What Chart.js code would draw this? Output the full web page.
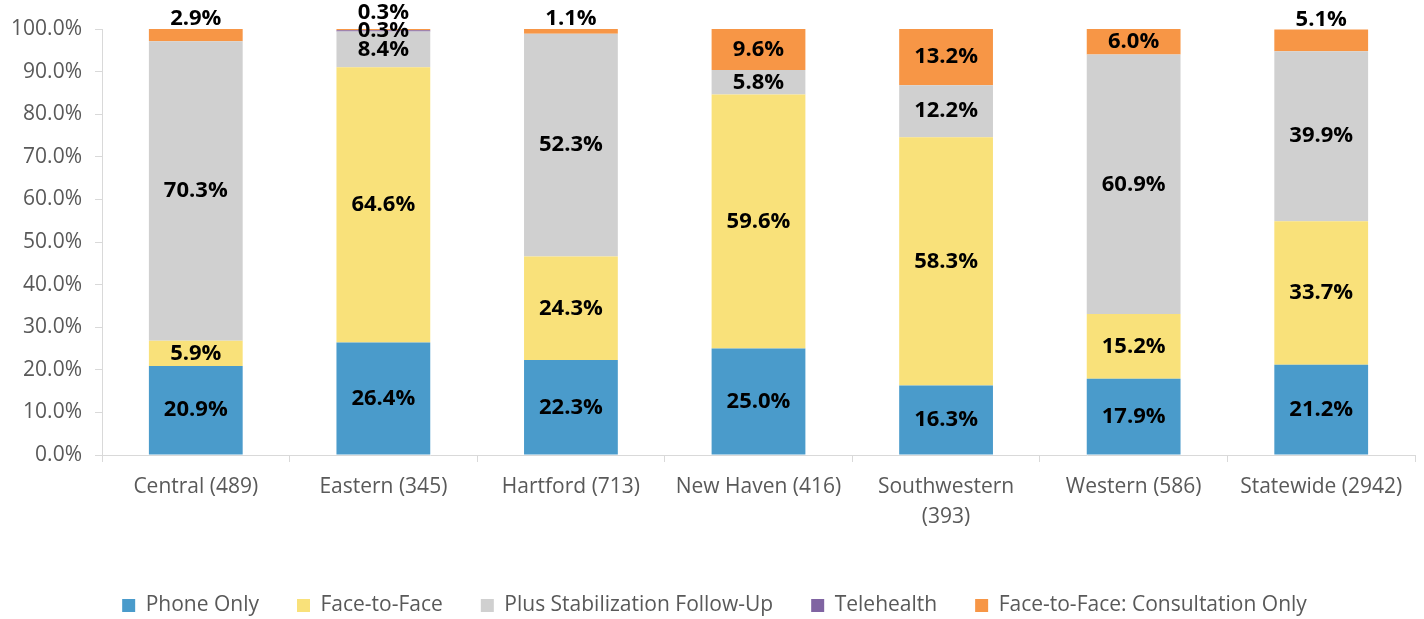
<!DOCTYPE html>
<html>
<head>
<meta charset="utf-8">
<script src="https://cdn.jsdelivr.net/npm/chart.js"></script>
<style>
  html, body { margin: 0; padding: 0; background: #fff; }
  #wrap { width: 1424px; height: 619px; }
</style>
</head>
<body>
<div id="wrap"><canvas id="chart" width="1424" height="619"></canvas></div>
<script>
// categories and series (percent of each region)
const regions = ["Central (489)", "Eastern (345)", "Hartford (713)", "New Haven (416)", "Southwestern (393)", "Western (586)", "Statewide (2942)"];
const phoneOnly = [20.9, 26.4, 22.3, 25.0, 16.3, 17.9, 21.2];
const faceToFace = [5.9, 64.6, 24.3, 59.6, 58.3, 15.2, 33.7];
const plusStabilization = [70.3, 8.4, 52.3, 5.8, 12.2, 60.9, 39.9];
const telehealth = [0, 0.3, 0, 0, 0, 0, 0];
const consultationOnly = [2.9, 0.3, 1.1, 9.6, 13.2, 6.0, 5.1];
const yTicks = [0, 10, 20, 30, 40, 50, 60, 70, 80, 90, 100];

const FONT = "'Open Sans', 'Liberation Sans', sans-serif";
const GREY_TEXT = "#595959";
const AXIS = "#d9d9d9";

// draws the value labels; small top segments go above the bar
const valueLabels = {
  id: "valueLabels",
  afterDatasetsDraw(chart) {
    const ctx = chart.ctx;
    const used = {};
    ctx.save();
    ctx.font = "bold 22px " + FONT;
    ctx.fillStyle = "#000";
    ctx.textAlign = "center";
    ctx.textBaseline = "middle";
    chart.data.datasets.forEach((ds, di) => {
      const meta = chart.getDatasetMeta(di);
      meta.data.forEach((bar, i) => {
        const v = ds.data[i];
        if (!v) return;
        const h = Math.abs(bar.base - bar.y);
        let y = (bar.y + bar.base) / 2;
        if (di === chart.data.datasets.length - 1 && h < 24) y = bar.y - 10;
        const prev = used[i];
        if (prev !== undefined && prev - y < 18) y = prev - 18;
        used[i] = y;
        ctx.fillText(v.toFixed(1) + "%", bar.x, y);
      });
    });
    ctx.restore();
  }
};

// nudge the legend a little from where chart.js puts it
const legendNudge = {
  id: "legendNudge",
  afterLayout(chart) {
    chart.legend.top += 7;
    chart.legend.bottom += 7;
    chart.legend.left += 7;
    chart.legend.right += 7;
  }
};

new Chart(document.getElementById("chart"), {
  type: "bar",
  data: {
    labels: regions,
    datasets: [
      { label: "Phone Only", data: phoneOnly, backgroundColor: "#4a9bcb" },
      { label: "Face-to-Face", data: faceToFace, backgroundColor: "#f9e17a" },
      { label: "Plus Stabilization Follow-Up", data: plusStabilization, backgroundColor: "#d0d0d0" },
      { label: "Telehealth", data: telehealth, backgroundColor: "#8064a2" },
      { label: "Face-to-Face: Consultation Only", data: consultationOnly, backgroundColor: "#f79646" }
    ]
  },
  options: {
    responsive: false,
    animation: false,
    layout: { padding: { top: 29, right: 9, left: 0, bottom: 0 } },
    datasets: { bar: { categoryPercentage: 1, barPercentage: 0.5, borderWidth: 0 } },
    plugins: {
      legend: {
        position: "bottom",
        labels: {
          font: { family: FONT, size: 21 },
          color: GREY_TEXT,
          boxWidth: 13,
          boxHeight: 13,
          padding: 38
        }
      },
      tooltip: { enabled: false }
    },
    scales: {
      x: {
        stacked: true,
        grid: { offset: true, drawOnChartArea: false, tickLength: 7, color: AXIS },
        border: { color: AXIS },
        ticks: {
          font: { family: FONT, size: 21, lineHeight: 1.43 },
          color: GREY_TEXT,
          padding: 10,
          maxRotation: 0,
          autoSkip: false,
          callback(value) {
            const s = this.getLabelForValue(value);
            if (s.length > 16) {
              const k = s.lastIndexOf(" ");
              return [s.slice(0, k), s.slice(k + 1)];
            }
            return s;
          }
        },
        afterFit(scale) { scale.height = 95; }
      },
      y: {
        stacked: true,
        min: 0,
        max: 100,
        afterBuildTicks(scale) { scale.ticks = yTicks.map(v => ({ value: v })); },
        grid: { drawOnChartArea: false, tickLength: 7, color: AXIS },
        border: { color: AXIS },
        ticks: {
          font: { family: FONT, size: 21 },
          color: GREY_TEXT,
          padding: 13,
          callback: v => v.toFixed(1) + "%"
        },
        afterFit(scale) { scale.width = 102; }
      }
    }
  },
  plugins: [valueLabels, legendNudge]
});
</script>
</body>
</html>
